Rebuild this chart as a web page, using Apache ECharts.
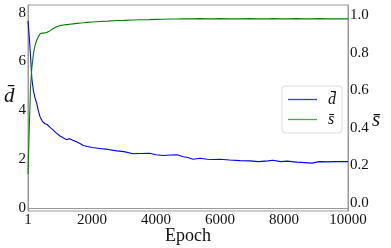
<!DOCTYPE html>
<html><head><meta charset="utf-8">
<script src="https://cdn.jsdelivr.net/npm/echarts@6/dist/echarts.min.js"></script>
<style>html,body{margin:0;padding:0;background:#fff}#c{width:391px;height:248px}</style>
</head><body><div id="c"></div>
<script>
const epochs = [1, 40, 80, 120, 170, 220, 270, 320, 375, 450, 530, 600, 690, 780, 880, 1000, 1100, 1200, 1300, 1400, 1530, 1650, 1730, 1850, 2000, 2250, 2500, 2780, 3000, 3280, 3500, 3800, 4000, 4220, 4450, 4660, 4850, 4970, 5160, 5380, 5600, 5800, 6000, 6300, 6630, 6940, 7200, 7500, 7650, 7900, 8100, 8400, 8650, 8875, 9100, 9350, 9600, 10000];
const dBar = [7.66, 7.0, 6.2, 5.3, 4.8, 4.5, 4.3, 4.0, 3.74, 3.55, 3.45, 3.42, 3.3, 3.2, 3.08, 2.95, 2.88, 2.8, 2.84, 2.78, 2.7, 2.62, 2.56, 2.52, 2.48, 2.44, 2.4, 2.34, 2.31, 2.22, 2.23, 2.24, 2.18, 2.15, 2.17, 2.18, 2.1, 2.08, 2.0, 2.04, 2.0, 1.99, 2.0, 1.97, 1.94, 1.93, 1.9, 1.93, 1.96, 1.9, 1.92, 1.88, 1.86, 1.84, 1.9, 1.89, 1.9, 1.9];
const sBar = [0.153, 0.40, 0.62, 0.72, 0.795, 0.84, 0.865, 0.885, 0.90, 0.905, 0.906, 0.91, 0.918, 0.928, 0.937, 0.945, 0.948, 0.95, 0.952, 0.954, 0.957, 0.959, 0.96, 0.962, 0.964, 0.967, 0.969, 0.972, 0.973, 0.975, 0.976, 0.977, 0.978, 0.979, 0.98, 0.98, 0.981, 0.981, 0.981, 0.982, 0.981, 0.981, 0.982, 0.981, 0.981, 0.982, 0.981, 0.981, 0.982, 0.981, 0.981, 0.982, 0.981, 0.981, 0.982, 0.981, 0.981, 0.981];
const xTicks = [0, 2000, 4000, 6000, 8000, 10000];
const legendNames = ['d\u0304', 's\u0304'];

const serif = "'Liberation Serif', 'Times New Roman', serif";
const chart = echarts.init(document.getElementById('c'), null, {renderer: 'canvas'});
chart.setOption({
  animation: false,
  backgroundColor: '#fff',
  grid: {left: 28, right: 43, top: 5, bottom: 37, outerBoundsMode: 'none', containLabel: false,
    show: true, borderColor: '#999', borderWidth: 1, backgroundColor: 'transparent'},
  xAxis: {
    type: 'value', min: xTicks[0], max: xTicks[xTicks.length - 1], interval: 2000,
    axisLine: {lineStyle: {color: '#999'}}, axisTick: {show: false}, splitLine: {show: false},
    axisLabel: {color: '#111', fontFamily: serif, fontSize: 15, margin: 2,
      formatter: v => v === 0 ? '1' : String(v)},
    name: 'Epoch', nameLocation: 'middle', nameGap: 16, nameMoveOverlap: false,
    nameTextStyle: {color: '#111', fontFamily: serif, fontSize: 18}
  },
  yAxis: [{
    type: 'value', min: -0.12, max: 8.31, splitNumber: 4,
    axisLine: {show: true, lineStyle: {color: '#999'}}, axisTick: {show: false}, splitLine: {show: false},
    axisLabel: {color: '#111', fontFamily: serif, fontSize: 15, margin: 2, showMinLabel: false, showMaxLabel: false,
      formatter: v => String(Math.round(v))}
  }, {
    type: 'value', min: -0.045, max: 1.055, splitNumber: 5, position: 'right',
    axisLine: {show: true, lineStyle: {color: '#999'}}, axisTick: {show: false}, splitLine: {show: false},
    axisLabel: {color: '#111', fontFamily: serif, fontSize: 15, margin: 2, showMinLabel: false, showMaxLabel: false,
      formatter: v => v.toFixed(1)}
  }],
  legend: {
    show: true, orient: 'vertical', left: 282, top: 86, padding: [4, 6, 4, 6], itemGap: 1,
    icon: 'rect', itemWidth: 29, itemHeight: 1.3,
    backgroundColor: '#fff', borderColor: '#ddd', borderWidth: 1, borderRadius: 3,
    textStyle: {fontFamily: serif, fontStyle: 'italic', fontSize: 16, color: '#111', padding: [2, 0, 0, 6], lineHeight: 17},
    data: [{name: legendNames[0], itemStyle: {color: '#3a3aff'}}, {name: legendNames[1], itemStyle: {color: '#4ca64c'}}]
  },
  graphic: [
    {type: 'text', left: 4, top: 86, style: {text: 'd\u0304', fontFamily: serif, fontStyle: 'italic', fontSize: 21, fill: '#111'}},
    {type: 'text', left: 372, top: 110, style: {text: 's\u0304', fontFamily: serif, fontStyle: 'italic', fontSize: 21, fill: '#111'}}
  ],
  series: [{
    name: legendNames[0], type: 'line', yAxisIndex: 0, symbol: 'none',
    lineStyle: {color: '#0000ff', width: 1.1}, itemStyle: {color: '#0000ff'},
    data: epochs.map((e, i) => [e, dBar[i]])
  }, {
    name: legendNames[1], type: 'line', yAxisIndex: 1, symbol: 'none',
    lineStyle: {color: '#008000', width: 1.1}, itemStyle: {color: '#008000'},
    data: epochs.map((e, i) => [e, sBar[i]])
  }]
});
</script></body></html>
